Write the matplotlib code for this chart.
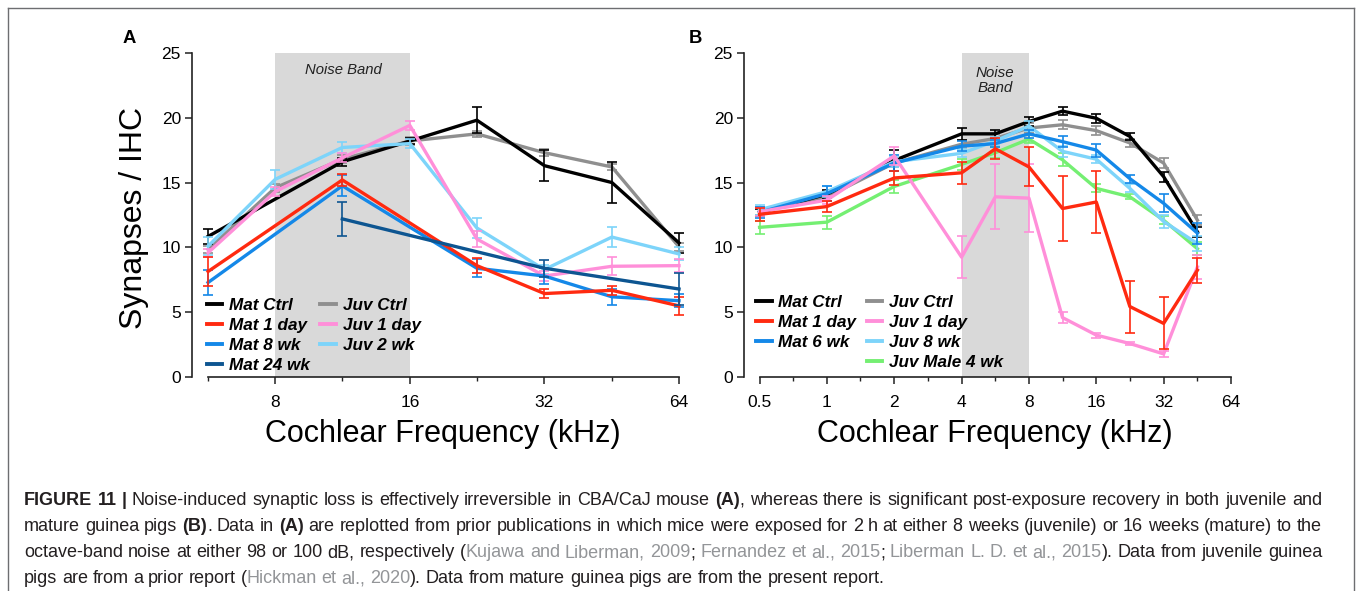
import matplotlib.pyplot as plt
from matplotlib.lines import Line2D

plt.rcParams['font.family'] = ['Liberation Sans', 'DejaVu Sans']

W, H = 1357, 591

# ---------------- Panel A: mouse (kHz, synapses per IHC) ----------------
freq_a = [5.66, 8, 11.3, 16, 22.6, 32, 45.3, 64]
freq_a_mat = [5.66, 11.3, 22.6, 32, 45.3, 64]

a_mat_ctrl_f = [5.66, 11.3, 16, 22.6, 32, 45.3, 64]
a_mat_ctrl = [10.85, 16.6, 18.2, 19.8, 16.3, 15.0, 10.35]
a_mat_ctrl_err = [0.6, 0.3, 0.2, 1.0, 1.2, 1.55, 0.8]

a_mat_1d = [8.15, 15.2, 8.6, 6.45, 6.7, 5.5]
a_mat_1d_err = [1.15, 0.45, 0.6, 0.35, 0.35, 0.7]

a_mat_8wk = [7.3, 14.75, 8.4, 7.8, 6.2, 5.9]
a_mat_8wk_err = [0.95, 0.8, 0.7, 0.65, 0.6, 0.5]

a_mat_24wk_f = [11.3, 32, 64]
a_mat_24wk = [12.2, 8.4, 6.8]
a_mat_24wk_err = [1.3, 0.65, 1.2]

a_juv_ctrl = [9.85, 14.6, 16.8, 18.2, 18.75, 17.3, 16.2, 10.05]
a_juv_ctrl_err = [0.3, 0.3, 0.3, 0.3, 0.25, 0.25, 0.25, 0.3]

a_juv_1d = [9.6, 14.3, 16.9, 19.4, 10.65, 7.8, 8.55, 8.6]
a_juv_1d_err = [0.3, 0.35, 0.35, 0.35, 0.6, 0.4, 0.7, 0.5]

a_juv_2wk = [10.1, 15.25, 17.7, 18.0, 11.5, 8.3, 10.8, 9.5]
a_juv_2wk_err = [0.7, 0.75, 0.45, 0.35, 0.8, 0.35, 0.75, 0.5]

# ---------------- Panel B: guinea pig ----------------
freq_b = [0.5, 1, 2, 4, 5.66, 8, 11.3, 16, 22.6, 32, 45.3]

b_mat_ctrl = [12.7, 14.1, 16.7, 18.75, 18.75, 19.7, 20.5, 19.95, 18.55, 15.45, 11.2]
b_mat_ctrl_err = [0.3, 0.3, 0.8, 0.45, 0.3, 0.35, 0.3, 0.35, 0.3, 0.4, 0.4]

b_mat_1d = [12.55, 13.15, 15.35, 15.75, 17.6, 16.2, 13.0, 13.5, 5.45, 4.15, 8.25]
b_mat_1d_err = [0.5, 0.45, 0.55, 0.85, 0.8, 1.5, 2.5, 2.4, 2.0, 2.0, 0.95]

b_mat_6wk = [12.7, 14.15, 16.5, 17.8, 18.0, 18.75, 18.15, 17.5, 15.3, 13.4, 11.1]
b_mat_6wk_err = [0.4, 0.6, 0.6, 0.4, 0.3, 0.3, 0.4, 0.5, 0.3, 0.7, 0.8]

b_juv_ctrl = [12.8, 13.9, 16.5, 17.95, 18.4, 19.2, 19.45, 19.0, 18.05, 16.5, 12.1]
b_juv_ctrl_err = [0.3, 0.3, 0.3, 0.3, 0.3, 0.35, 0.35, 0.35, 0.3, 0.4, 0.4]

b_juv_1d = [12.75, 13.65, 17.05, 9.25, 13.9, 13.8, 4.6, 3.25, 2.6, 1.8, 8.5]
b_juv_1d_err = [0.3, 0.3, 0.7, 1.6, 2.5, 2.6, 0.4, 0.2, 0.1, 0.2, 0.9]

b_juv_8wk = [12.9, 14.3, 16.6, 17.25, 18.2, 19.35, 17.4, 16.8, 14.55, 12.0, 10.3]
b_juv_8wk_err = [0.4, 0.4, 0.4, 0.3, 0.3, 0.4, 0.4, 0.3, 0.3, 0.5, 0.6]

b_juv_m4wk = [11.55, 11.95, 14.7, 16.4, 17.3, 18.35, 16.75, 14.55, 13.9, 12.1, 9.9]
b_juv_m4wk_err = [0.5, 0.5, 0.5, 0.4, 0.4, 0.3, 0.5, 0.3, 0.2, 0.3, 0.5]

# colours
C_MAT_CTRL = '#000000'
C_MAT_1D = '#ff2a10'
C_MAT_WK = '#1488e8'
C_MAT_24 = '#0d5591'
C_JUV_CTRL = '#8f8f8f'
C_JUV_1D = '#ff8fd9'
C_JUV_WK = '#7dd4fa'
C_JUV_M4 = '#74ef72'
BAND = '#d9d9d9'


def px(x, y):
    return x / W, 1 - y / H


def series(ax, f, v, e, color, z):
    cont = ax.errorbar(f, v, yerr=e, color=color, lw=2.4, elinewidth=1.2,
                       capsize=3.3, capthick=1.2, zorder=z)
    for art in cont.get_children():
        art.set_clip_on(False)


def style(ax, xmin, start, majors, labels, minors):
    ax.set_xscale('log', base=2)
    ax.set_xlim(xmin, 64)
    ax.set_ylim(0, 25)
    ax.spines['top'].set_visible(False)
    ax.spines['right'].set_visible(False)
    for s in ('left', 'bottom'):
        ax.spines[s].set_linewidth(1.2)
        ax.spines[s].set_color('#222222')
    ax.spines['bottom'].set_bounds(start, 64)
    ax.set_xticks(majors)
    ax.set_xticklabels(labels)
    ax.set_xticks(minors, minor=True)
    ax.set_xticklabels([], minor=True)
    ax.set_yticks([0, 5, 10, 15, 20, 25])
    ax.tick_params(axis='x', which='major', length=5, width=1.1, pad=8,
                   labelsize=12.5, color='#222222')
    ax.tick_params(axis='x', which='minor', length=3, width=1.0, color='#222222')
    ax.tick_params(axis='y', length=5, width=1.1, pad=3, labelsize=12.5,
                   color='#222222')
    ax.patch.set_alpha(0)


fig = plt.figure(figsize=(W / 100, H / 100), dpi=100)
ax_a = fig.add_axes([192 / W, 1 - 377.3 / H, 487 / W, 324.6 / H])
ax_b = fig.add_axes([744 / W, 1 - 377.3 / H, 487 / W, 324.6 / H])

# ---- panel A ----
style(ax_a, 5.21, 5.66, [8, 16, 32, 64], ['8', '16', '32', '64'],
      [5.66, 11.3, 22.6, 45.3])
ax_a.axvspan(8, 16, color=BAND, lw=0, zorder=0)
ax_a.text(11.35, 23.36, 'Noise Band', ha='center', va='baseline',
          style='italic', size=10.7, color='#222222')

series(ax_a, freq_a, a_juv_ctrl, a_juv_ctrl_err, C_JUV_CTRL, 2)
series(ax_a, a_mat_ctrl_f, a_mat_ctrl, a_mat_ctrl_err, C_MAT_CTRL, 3)
series(ax_a, freq_a, a_juv_2wk, a_juv_2wk_err, C_JUV_WK, 4)
series(ax_a, freq_a, a_juv_1d, a_juv_1d_err, C_JUV_1D, 5)
series(ax_a, freq_a_mat, a_mat_8wk, a_mat_8wk_err, C_MAT_WK, 6)
series(ax_a, freq_a_mat, a_mat_1d, a_mat_1d_err, C_MAT_1D, 7)
series(ax_a, a_mat_24wk_f, a_mat_24wk, a_mat_24wk_err, C_MAT_24, 8)

legend_kw = dict(ncol=2, loc='lower left', frameon=False,
                 prop=dict(weight='bold', style='italic', size=12.3),
                 handlelength=0.9, handletextpad=0.4, columnspacing=0.6,
                 labelspacing=0.3, borderpad=0, borderaxespad=0)


def handle(c):
    return Line2D([], [], color=c, lw=2.8)


labels_a = ['Mat Ctrl', 'Mat 1 day', 'Mat 8 wk', 'Mat 24 wk',
            'Juv Ctrl', 'Juv 1 day', 'Juv 2 wk']
colors_a = [C_MAT_CTRL, C_MAT_1D, C_MAT_WK, C_MAT_24,
            C_JUV_CTRL, C_JUV_1D, C_JUV_WK]
ax_a.legend([handle(c) for c in colors_a], labels_a,
            bbox_to_anchor=(0.031, 0.012), **legend_kw)

# ---- panel B ----
style(ax_b, 0.426, 0.5, [0.5, 1, 2, 4, 8, 16, 32, 64],
      ['0.5', '1', '2', '4', '8', '16', '32', '64'],
      [0.707, 1.41, 2.83, 5.66, 11.3, 22.6, 45.3])
ax_b.axvspan(4, 8, color=BAND, lw=0, zorder=0)
ax_b.text(5.66, 22.85, 'Noise\nBand', ha='center', va='center',
          style='italic', size=10.9, color='#222222', linespacing=1.05)

series(ax_b, freq_b, b_juv_ctrl, b_juv_ctrl_err, C_JUV_CTRL, 2)
series(ax_b, freq_b, b_mat_ctrl, b_mat_ctrl_err, C_MAT_CTRL, 3)
series(ax_b, freq_b, b_juv_m4wk, b_juv_m4wk_err, C_JUV_M4, 4)
series(ax_b, freq_b, b_juv_8wk, b_juv_8wk_err, C_JUV_WK, 5)
series(ax_b, freq_b, b_mat_6wk, b_mat_6wk_err, C_MAT_WK, 6)
series(ax_b, freq_b, b_juv_1d, b_juv_1d_err, C_JUV_1D, 7)
series(ax_b, freq_b, b_mat_1d, b_mat_1d_err, C_MAT_1D, 8)

labels_b = ['Mat Ctrl', 'Mat 1 day', 'Mat 6 wk', '',
            'Juv Ctrl', 'Juv 1 day', 'Juv 8 wk', 'Juv Male 4 wk']
colors_b = [C_MAT_CTRL, C_MAT_1D, C_MAT_WK, 'none',
            C_JUV_CTRL, C_JUV_1D, C_JUV_WK, C_JUV_M4]
ax_b.legend([handle(c) for c in colors_b], labels_b,
            bbox_to_anchor=(0.025, 0.022), **legend_kw)

# ---- shared labels ----
fig.text(*px(134, 218), 'Synapses / IHC', rotation=90, ha='center',
         va='center', size=23)
fig.text(*px(443, 442), 'Cochlear Frequency (kHz)', ha='center',
         va='baseline', size=22)
fig.text(*px(995, 442), 'Cochlear Frequency (kHz)', ha='center',
         va='baseline', size=22)
fig.text(*px(123, 43), 'A', weight='bold', size=13.3, va='baseline')
fig.text(*px(689, 43), 'B', weight='bold', size=13.3, va='baseline')

# ---- page frame ----
frame = dict(transform=fig.transFigure, color='#6d6e71', lw=1.0)
fig.add_artist(Line2D([8 / W, 1354 / W], [1 - 8 / H, 1 - 8 / H], **frame))
fig.add_artist(Line2D([8 / W, 8 / W], [0, 1 - 8 / H], **frame))
fig.add_artist(Line2D([1354 / W, 1354 / W], [0, 1 - 8 / H], **frame))

# ---- caption, set word by word and justified ----
TXT = '#231f20'
REF = '#939598'
CAP_SIZE = 13.0
caption = [
    [('FIGURE 11 |', 'b'),
     (' Noise-induced synaptic loss is effectively irreversible in CBA/CaJ mouse ', 'r'),
     ('(A)', 'b'),
     (', whereas there is significant post-exposure recovery in both juvenile and', 'r')],
    [('mature guinea pigs ', 'r'), ('(B)', 'b'), ('. Data in ', 'r'), ('(A)', 'b'),
     (' are replotted from prior publications in which mice were exposed for 2 h at '
      'either 8 weeks (juvenile) or 16 weeks (mature) to the', 'r')],
    [('octave-band noise at either 98 or 100 dB, respectively (', 'r'),
     ('Kujawa and Liberman, 2009', 'g'), ('; ', 'r'),
     ('Fernandez et al., 2015', 'g'), ('; ', 'r'),
     ('Liberman L. D. et al., 2015', 'g'), ('). Data from juvenile guinea', 'r')],
    [('pigs are from a prior report (', 'r'), ('Hickman et al., 2020', 'g'),
     ('). Data from mature guinea pigs are from the present report.', 'r')],
]
baselines = [505, 531, 557, 583]
x_left, x_right = 24, 1322


def tokens(line):
    out = []
    pending = False
    for text, st in line:
        for i, part in enumerate(text.split(' ')):
            if i > 0:
                pending = True
            if part == '':
                continue
            out.append((part, st, pending and len(out) > 0))
            pending = False
    return out


renderer = fig.canvas.get_renderer()
space_px = 0.26 * CAP_SIZE * 100 / 72
for n, (line, yb) in enumerate(zip(caption, baselines)):
    toks = tokens(line)
    arts = []
    for word, st, _ in toks:
        t = fig.text(0, 1 - yb / H, word, size=CAP_SIZE, va='baseline', ha='left',
                     color=REF if st == 'g' else TXT,
                     weight='bold' if st == 'b' else 'normal')
        arts.append(t)
    widths = [a.get_window_extent(renderer).width for a in arts]
    n_gaps = sum(1 for tk in toks if tk[2])
    if n < len(caption) - 1:
        gap = max((x_right - x_left - sum(widths)) / n_gaps, 0.6 * space_px)
    else:
        gap = space_px
    x = x_left
    for a, w, tk in zip(arts, widths, toks):
        if tk[2]:
            x += gap
        a.set_x(x / W)
        x += w

fig.savefig('out.png', dpi=100)
